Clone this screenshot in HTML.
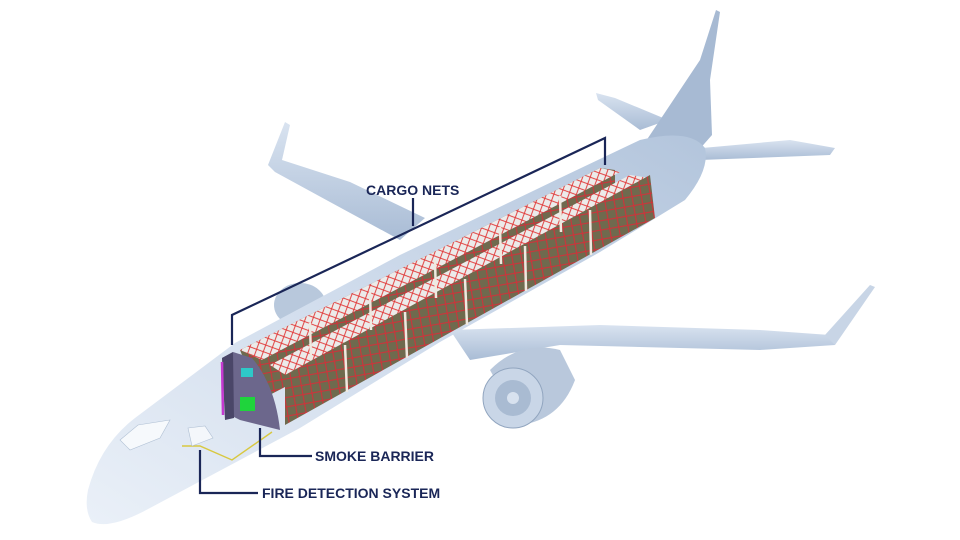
<!DOCTYPE html>
<html><head><meta charset="utf-8"><style>
html,body{margin:0;padding:0;background:#fff;width:960px;height:540px;overflow:hidden}
text{font-family:"Liberation Sans",sans-serif;font-weight:bold;fill:#1a2657}
</style></head><body>
<svg width="960" height="540" viewBox="0 0 960 540">
<defs>
<linearGradient id="fus" x1="0" y1="1" x2="1" y2="0">
<stop offset="0" stop-color="#eaf0f8"/><stop offset="0.5" stop-color="#d0dcec"/><stop offset="1" stop-color="#b3c5dc"/></linearGradient>
<linearGradient id="wing" x1="0" y1="0" x2="0" y2="1">
<stop offset="0" stop-color="#d9e3f0"/><stop offset="1" stop-color="#a9bcd5"/></linearGradient>
<pattern id="net" width="13" height="13" patternUnits="userSpaceOnUse" patternTransform="rotate(35)">
<rect width="13" height="13" fill="#6f6a4e"/>
<path d="M0 0L13 13M13 0L0 13" stroke="#d0323a" stroke-width="1.1"/></pattern>
<pattern id="nettop" width="10" height="10" patternUnits="userSpaceOnUse" patternTransform="rotate(-25)">
<rect width="10" height="10" fill="#ecebea"/>
<path d="M0 0L10 10M10 0L0 10" stroke="#e03030" stroke-width="0.9"/></pattern>
</defs>
<!-- far wing -->
<path d="M400 240 L330 202 L275 172 L268 165 L285 122 L290 125 L282 160 L350 182 L425 218 Z" fill="url(#wing)"/>
<!-- far engine -->
<ellipse cx="300" cy="305" rx="26" ry="22" fill="#b8c8dc"/>
<!-- horizontal stabilizers -->
<path d="M640 130 L598 100 L596 93 L615 98 L668 120 Z" fill="url(#wing)"/>
<path d="M680 150 L790 140 L835 148 L830 155 L700 160 Z" fill="url(#wing)"/>
<!-- vertical tail -->
<path d="M640 150 L700 60 L716 10 L720 12 L710 80 L712 135 L690 160 Z" fill="#a7bad3"/>
<!-- fuselage -->
<path d="M88 490 Q100 445 135 418 L235 343 L400 255 L560 178 L640 140 Q690 128 705 148 Q710 170 685 200 L600 252 L440 342 L300 428 L150 508 Q110 530 92 522 Q84 510 88 490 Z" fill="url(#fus)"/>
<!-- cockpit windows -->
<path d="M120 440 L138 425 L170 420 L160 438 L130 450 Z" fill="#f6f9fc" stroke="#b0c0d4" stroke-width="0.6"/>
<!-- near wing -->
<path d="M450 330 L600 325 L760 330 L830 335 L835 345 L760 350 L560 345 L470 360 Z" fill="url(#wing)"/>
<path d="M825 335 L870 285 L875 287 L835 345 Z" fill="#c8d5e6"/>
<!-- near engine -->
<path d="M490 370 Q520 340 560 350 L575 380 Q560 420 520 425 Z" fill="#b9c8dc"/>
<circle cx="513" cy="398" r="30" fill="#c9d6e7" stroke="#91a5bf" stroke-width="1"/>
<circle cx="513" cy="398" r="18" fill="#a9bbd2"/>
<circle cx="513" cy="398" r="6" fill="#d8e2ef"/>
<!-- cargo far row -->
<path d="M240 350 L600 168 L615 170 L615 215 L260 400 Z" fill="url(#net)"/>
<path d="M240 350 L600 168 L620 172 L262 360 Z" fill="url(#nettop)"/>
<!-- cargo near row -->
<path d="M270 365 L630 175 L650 178 L290 378 Z" fill="url(#nettop)"/>
<path d="M285 375 L650 175 L655 218 L285 425 Z" fill="url(#net)"/>
<g stroke="#efe9e0" stroke-width="2.5">
<line x1="345" y1="345" x2="347" y2="392"/><line x1="405" y1="312" x2="407" y2="358"/>
<line x1="465" y1="279" x2="467" y2="325"/><line x1="525" y1="246" x2="526" y2="291"/>
<line x1="590" y1="210" x2="591" y2="255"/>
<line x1="310" y1="323" x2="311" y2="360"/><line x1="370" y1="292" x2="371" y2="330"/>
<line x1="435" y1="260" x2="436" y2="298"/><line x1="500" y1="227" x2="501" y2="264"/>
<line x1="560" y1="196" x2="561" y2="232"/>
</g>
<!-- smoke barrier -->
<path d="M222 358 L233 352 L252 358 Q275 385 280 430 L240 420 L230 415 Z" fill="#6c678c"/>
<path d="M222 358 L233 352 L234 418 L225 420 Z" fill="#4a4668"/>
<rect x="241" y="368" width="12" height="9" fill="#2ec8c8"/>
<rect x="240" y="397" width="15" height="14" fill="#1fd43c"/>
<line x1="222" y1="362" x2="223" y2="415" stroke="#c43ad0" stroke-width="2.5"/>
<!-- fire detection -->
<path d="M182 446 L200 446 L232 460 L272 432" stroke="#d8c840" stroke-width="1.4" fill="none"/>
<path d="M188 428 L205 426 L213 438 L192 446 Z" fill="#f4f7fb" stroke="#b0c0d4" stroke-width="0.6"/>
<!-- leader lines -->
<g stroke="#1a2657" stroke-width="2.2" fill="none">
<path d="M232 345 L232 315 L605 138 L605 165"/>
<path d="M413 226 L413 198"/>
<path d="M260 428 L260 456 L312 456"/>
<path d="M200 450 L200 493 L258 493"/>
</g>
<text x="366" y="195" font-size="14">CARGO NETS</text>
<text x="315" y="461" font-size="14">SMOKE BARRIER</text>
<text x="262" y="498" font-size="14">FIRE DETECTION SYSTEM</text>
</svg>
</body></html>
